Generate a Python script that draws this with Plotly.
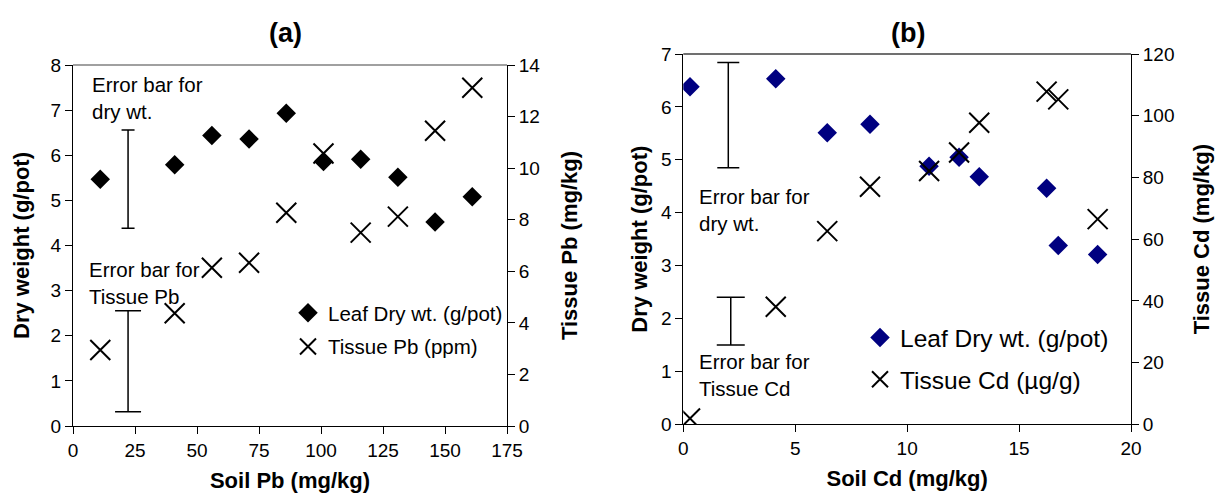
import plotly.graph_objects as go

# ---------------- data ----------------
soil_pb = [11, 41, 56, 71, 86, 101, 116, 131, 146, 161]
dry_wt_a = [5.47, 5.79, 6.44, 6.36, 6.93, 5.86, 5.91, 5.51, 4.52, 5.08]
tissue_pb = [2.95, 4.37, 6.14, 6.33, 8.27, 10.57, 7.50, 8.12, 11.45, 13.12]

soil_cd = [0.3, 4.13, 6.43, 8.34, 10.98, 12.32, 13.22, 16.23, 16.75, 18.51]
dry_wt_b = [6.38, 6.53, 5.51, 5.67, 4.88, 5.05, 4.68, 4.46, 3.38, 3.21]
tissue_cd = [1.9, 38.1, 62.6, 77.0, 82.1, 88.1, 97.7, 107.8, 105.3, 66.5]

# error-bar indicators: x, centre, half-range
eb_a_dry = (22.2, 5.47, 1.09)
eb_a_pb = (22.2, 2.51, 1.96)
eb_b_dry = (2.01, 5.845, 0.995)
eb_b_cd = (2.12, 33.45, 7.75)

FONT = "Liberation Sans, Arial, Helvetica, sans-serif"
NAVY = "#000080"

fig = go.Figure()

# ---- panel (a) ----
fig.add_trace(go.Scatter(
    x=soil_pb, y=dry_wt_a, mode="markers", name="Leaf Dry wt. (g/pot)",
    marker=dict(symbol="diamond", size=15, color="black"),
    xaxis="x", yaxis="y", legend="legend", legendgroup="a1"))
fig.add_trace(go.Scatter(
    x=soil_pb, y=tissue_pb, mode="markers", name="Tissue Pb (ppm)",
    marker=dict(symbol="x-thin", size=20, color="black",
                line=dict(color="black", width=2)),
    xaxis="x", yaxis="y2", legend="legend", legendgroup="a2"))

fig.add_trace(go.Scatter(
    x=[eb_a_dry[0]], y=[eb_a_dry[1]], mode="markers",
    marker=dict(size=1, opacity=0), showlegend=False, hoverinfo="skip",
    error_y=dict(type="data", array=[eb_a_dry[2]], color="black",
                 thickness=1.5, width=6.5),
    xaxis="x", yaxis="y"))
fig.add_trace(go.Scatter(
    x=[eb_a_pb[0]], y=[eb_a_pb[1]], mode="markers",
    marker=dict(size=1, opacity=0), showlegend=False, hoverinfo="skip",
    error_y=dict(type="data", array=[eb_a_pb[2]], color="black",
                 thickness=1.5, width=13),
    xaxis="x", yaxis="y2"))

# ---- panel (b) ----
fig.add_trace(go.Scatter(
    x=soil_cd, y=dry_wt_b, mode="markers", name="Leaf Dry wt. (g/pot)",
    marker=dict(symbol="diamond", size=15, color=NAVY),
    xaxis="x2", yaxis="y3", legend="legend2", legendgroup="b1"))
fig.add_trace(go.Scatter(
    x=soil_cd, y=tissue_cd, mode="markers", name="Tissue Cd (µg/g)",
    marker=dict(symbol="x-thin", size=20, color="black",
                line=dict(color="black", width=2)),
    xaxis="x2", yaxis="y4", legend="legend2", legendgroup="b2"))

fig.add_trace(go.Scatter(
    x=[eb_b_dry[0]], y=[eb_b_dry[1]], mode="markers",
    marker=dict(size=1, opacity=0), showlegend=False, hoverinfo="skip",
    error_y=dict(type="data", array=[eb_b_dry[2]], color="black",
                 thickness=1.5, width=11),
    xaxis="x2", yaxis="y3"))
fig.add_trace(go.Scatter(
    x=[eb_b_cd[0]], y=[eb_b_cd[1]], mode="markers",
    marker=dict(size=1, opacity=0), showlegend=False, hoverinfo="skip",
    error_y=dict(type="data", array=[eb_b_cd[2]], color="black",
                 thickness=1.5, width=14),
    xaxis="x2", yaxis="y4"))

W, H = 1229, 495
def px_x(p):
    return p / W
def px_y(p):
    return 1 - p / H

tickfont = dict(family=FONT, size=19, color="black")
titlefont = dict(family=FONT, size=22, color="black", weight="bold")

common = dict(showgrid=False, zeroline=False, showline=True, linecolor="black",
              linewidth=1, ticks="outside", ticklen=7, tickcolor="black",
              tickfont=tickfont, fixedrange=True, automargin=False)

fig.update_layout(
    width=W, height=H,
    margin=dict(l=0, r=0, t=0, b=0, autoexpand=False),
    paper_bgcolor="white", plot_bgcolor="white",
    font=dict(family=FONT, color="black"),
    xaxis=dict(domain=[px_x(73), px_x(507)], range=[0, 175], dtick=25,
               anchor="y", title=dict(text="Soil Pb (mg/kg)", font=titlefont, standoff=12),
               **common),
    yaxis=dict(domain=[px_y(426), px_y(65)], range=[0, 8], dtick=1,
               anchor="x", title=dict(text="Dry weight (g/pot)", font=titlefont, standoff=14),
               **common),
    yaxis2=dict(range=[0, 14], dtick=2, overlaying="y", side="right", anchor="x",
                title=dict(text="Tissue Pb (mg/kg)", font=titlefont, standoff=22),
                **common),
    xaxis2=dict(domain=[px_x(683.3), px_x(1131)], range=[0, 20], dtick=5,
                anchor="y3", title=dict(text="Soil Cd (mg/kg)", font=titlefont, standoff=12),
                **common),
    yaxis3=dict(domain=[px_y(424.3), px_y(54)], range=[0, 7], dtick=1,
                anchor="x2", title=dict(text="Dry weight (g/pot)", font=titlefont, standoff=7),
                **common),
    yaxis4=dict(range=[0, 120], dtick=20, overlaying="y3", side="right", anchor="x2",
                title=dict(text="Tissue Cd (mg/kg)", font=titlefont, standoff=20),
                **common),
    legend=dict(x=px_x(288), y=px_y(293), xanchor="left", yanchor="top",
                font=dict(family=FONT, size=20.5, color="black"),
                bgcolor="rgba(0,0,0,0)", traceorder="grouped", tracegroupgap=4,
                itemwidth=30),
    legend2=dict(x=px_x(860), y=px_y(315), xanchor="left", yanchor="top",
                 font=dict(family=FONT, size=24.5, color="black"),
                 bgcolor="rgba(0,0,0,0)", traceorder="grouped", tracegroupgap=7,
                 itemwidth=30),
    showlegend=True,
)

# top frame lines
fig.add_shape(type="line", xref="x domain", yref="y domain", x0=0, x1=1, y0=1, y1=1,
              line=dict(color="#808080", width=1.5))
fig.add_shape(type="line", xref="x2 domain", yref="y3 domain", x0=0, x1=1, y0=1, y1=1,
              line=dict(color="#404040", width=1.5))

ann_font = dict(family=FONT, size=20.5, color="black")
annotations = [
    dict(text="<b>(a)</b>", x=px_x(285), y=px_y(33), xref="paper", yref="paper",
         xanchor="center", yanchor="middle",
         showarrow=False, font=dict(family=FONT, size=27, color="black")),
    dict(text="<b>(b)</b>", x=px_x(908), y=px_y(33), xref="paper", yref="paper",
         xanchor="center", yanchor="middle",
         showarrow=False, font=dict(family=FONT, size=27, color="black")),
    dict(text="Error bar for<br>dry wt.", x=7.0, y=7.26, xref="x", yref="y",
         xanchor="left", yanchor="middle", align="left", showarrow=False, font=ann_font),
    dict(text="Error bar for<br>Tissue Pb", x=5.5, y=3.16, xref="x", yref="y",
         xanchor="left", yanchor="middle", align="left", showarrow=False, font=ann_font),
    dict(text="Error bar for<br>dry wt.", x=0.61, y=4.05, xref="x2", yref="y3",
         xanchor="left", yanchor="middle", align="left", showarrow=False, font=ann_font),
    dict(text="Error bar for<br>Tissue Cd", x=0.61, y=0.93, xref="x2", yref="y3",
         xanchor="left", yanchor="middle", align="left", showarrow=False, font=ann_font),
]
fig.update_layout(annotations=annotations)

fig.write_html("out.html", config=dict(displayModeBar=False),
               post_script="document.body.style.margin='0px';document.body.style.overflow='hidden';")
